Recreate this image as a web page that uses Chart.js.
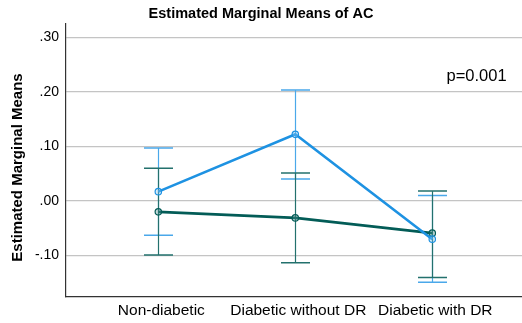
<!DOCTYPE html>
<html>
<head>
<meta charset="utf-8">
<script src="https://cdn.jsdelivr.net/npm/chart.js@4"></script>
<style>
  html, body { margin: 0; padding: 0; background: #fff; }
  #wrap { width: 522px; height: 323px; }
</style>
</head>
<body>
<div id="wrap"><canvas id="c"></canvas></div>
<script>
// Groups on the horizontal axis
const groups = ['Non-diabetic', 'Diabetic without DR', 'Diabetic with DR'];

// First series (blue): means and 95% CI bounds
const meanA  = [0.017, 0.122, -0.070];
const lowerA = [-0.063, 0.040, -0.149];
const upperA = [0.097, 0.203, 0.010];

// Second series (teal): means and 95% CI bounds
const meanB  = [-0.020, -0.031, -0.059];
const lowerB = [-0.099, -0.113, -0.140];
const upperB = [0.060, 0.051, 0.018];

// Value axis ticks
const yTicks = [0.30, 0.20, 0.10, 0.00, -0.10];

const titleText = 'Estimated Marginal Means of AC';
const yTitleText = 'Estimated Marginal Means';
const pText = 'p=0.001';

const BLUE = '#1e92e2';
const BLUE_BAR = '#4aa8ea';
const TEAL = '#035c57';
const TEAL_BAR = '#23716d';

Chart.defaults.font.family = '"Liberation Sans", Arial, sans-serif';
Chart.defaults.color = '#000';

const fmt = v => {
  const s = Math.abs(v).toFixed(2).replace(/^0/, '');
  return (v < -1e-9 ? '-' : '') + s;
};

const pts = arr => arr.map((v, i) => ({ x: i, y: v }));

// Confidence-interval whiskers drawn under the lines
const errorBars = {
  id: 'errorBars',
  beforeDatasetsDraw(chart) {
    const xs = chart.scales.x, ys = chart.scales.y, ctx = chart.ctx;
    const sets = [
      { lo: lowerA, hi: upperA, color: BLUE_BAR },
      { lo: lowerB, hi: upperB, color: TEAL_BAR }
    ];
    const half = 14.5;
    ctx.save();
    sets.forEach(s => {
      ctx.strokeStyle = s.color;
      groups.forEach((g, i) => {
        const x = Math.round(xs.getPixelForValue(i)) + 0.5;
        const y1 = ys.getPixelForValue(s.lo[i]);
        const y2 = ys.getPixelForValue(s.hi[i]);
        ctx.lineWidth = 1.2;
        ctx.beginPath();
        ctx.moveTo(x, y1); ctx.lineTo(x, y2);
        ctx.stroke();
        ctx.lineWidth = 1.5;
        ctx.beginPath();
        ctx.moveTo(x - half, y1); ctx.lineTo(x + half, y1);
        ctx.moveTo(x - half, y2); ctx.lineTo(x + half, y2);
        ctx.stroke();
      });
    });
    ctx.restore();
  }
};

// Rotated axis caption and the p-value note
const annotations = {
  id: 'annotations',
  afterDraw(chart) {
    const ctx = chart.ctx;
    ctx.save();
    ctx.fillStyle = '#000';
    ctx.font = 'bold 15px "Liberation Sans", Arial, sans-serif';
    ctx.textAlign = 'center';
    ctx.textBaseline = 'middle';
    ctx.translate(17.5, 167.5);
    ctx.rotate(-Math.PI / 2);
    ctx.fillText(yTitleText, 0, 0);
    ctx.restore();

    ctx.save();
    ctx.fillStyle = '#000';
    ctx.font = '16.5px "Liberation Sans", Arial, sans-serif';
    ctx.textAlign = 'left';
    ctx.textBaseline = 'middle';
    ctx.fillText(pText, 446.5, 76);
    ctx.restore();
  }
};

new Chart(document.getElementById('c'), {
  type: 'line',
  data: {
    datasets: [
      {
        data: pts(meanA),
        borderColor: BLUE,
        borderWidth: 2.6,
        pointRadius: 3.2,
        pointBorderWidth: 1.2,
        pointBorderColor: BLUE,
        pointBackgroundColor: 'rgba(140,200,240,0.35)',
        tension: 0
      },
      {
        data: pts(meanB),
        borderColor: TEAL,
        borderWidth: 2.6,
        pointRadius: 3.2,
        pointBorderWidth: 1.2,
        pointBorderColor: TEAL,
        pointBackgroundColor: 'rgba(90,150,145,0.35)',
        tension: 0
      }
    ]
  },
  options: {
    responsive: true,
    maintainAspectRatio: false,
    animation: false,
    layout: { padding: 0, autoPadding: false },
    plugins: {
      legend: { display: false },
      tooltip: { enabled: false },
      title: {
        display: true,
        text: titleText,
        font: { size: 14.5, weight: 'bold' },
        color: '#000',
        padding: { top: 5.5, bottom: 0.6 }
      }
    },
    scales: {
      x: {
        type: 'linear',
        min: -0.674,
        max: 2.655,
        afterBuildTicks: s => { s.ticks = groups.map((g, i) => ({ value: i })); },
        afterFit: s => { s.height = 26.5; s.paddingLeft = 0; s.paddingRight = 0; },
        ticks: {
          callback: v => groups[v],
          font: { size: 15.5 },
          color: '#000',
          padding: -3,
          labelOffset: 3,
          maxRotation: 0,
          autoSkip: false
        },
        grid: { display: false },
        border: { display: true, color: '#333', width: 1.2 }
      },
      y: {
        min: -0.175,
        max: 0.325,
        afterBuildTicks: s => { s.ticks = yTicks.map(v => ({ value: v })); },
        afterFit: s => { s.width = 66; },
        ticks: {
          callback: v => fmt(v),
          font: { size: 14 },
          color: '#000',
          padding: 7
        },
        grid: { color: '#c4c4c4', lineWidth: 1.2, drawTicks: false },
        border: { display: true, color: '#333', width: 1.2 }
      }
    }
  },
  plugins: [errorBars, annotations]
});
</script>
</body>
</html>
